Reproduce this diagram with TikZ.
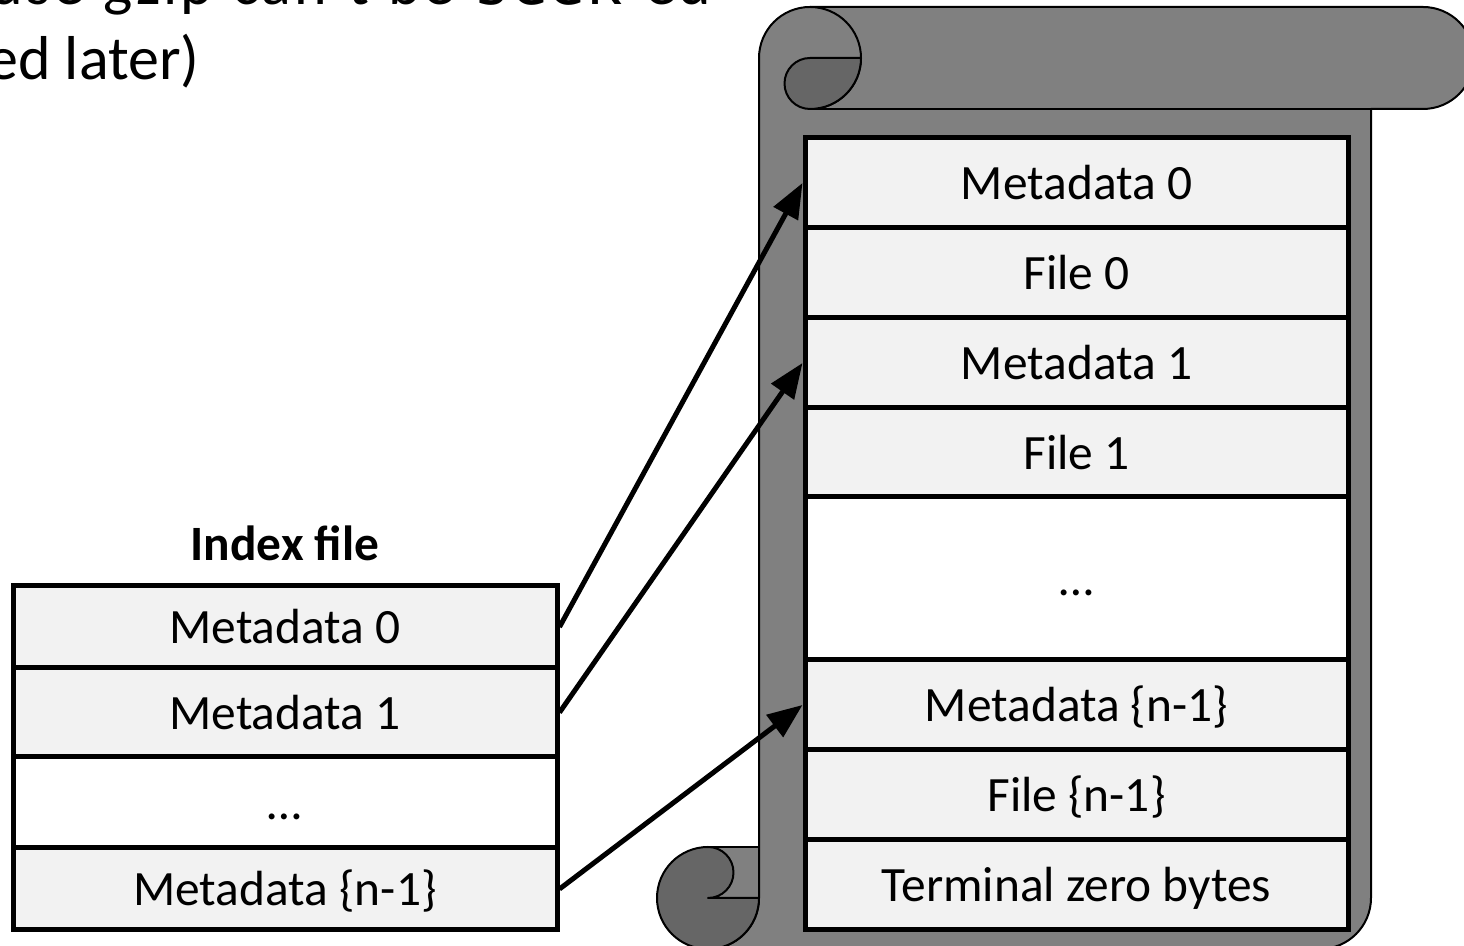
\documentclass[tikz,border=0pt]{standalone}
\usepackage{fontspec}
\setmainfont{Carlito}
\newfontfamily\codefont{DejaVu Sans Mono}
\usetikzlibrary{arrows.meta}
\definecolor{cellfill}{HTML}{F2F2F2}
\definecolor{scrollbody}{HTML}{808080}
\definecolor{scrollcurl}{HTML}{666666}

\begin{document}
\begin{tikzpicture}[x=0.5pt,y=0.5pt,
  cell/.style={draw, line width=2.5pt, fill=cellfill, minimum width=271.5pt,
    inner sep=0pt, text height=20pt, text depth=3pt,
    font=\fontsize{24.7}{30}\selectfont},
  icell/.style={cell, minimum width=272pt},
  arr/.style={line width=2.5pt, -{Triangle[length=17.5pt,width=13.5pt]}},
  scrollline/.style={line width=1pt, line join=round},
  heading/.style={anchor=base east, inner sep=0pt, font=\fontsize{31}{37}\selectfont}]
\useasboundingbox (0,0) rectangle (1464,946);
\clip (0,0) rectangle (1464,946);

% slide text running off the top-left corner
\node[heading] (head1) at (712,941)
  {\addfontfeatures{LetterSpace=5}\spaceskip=9.5pt use gzip can't be {\codefont seek}-ed};
\node[heading] (head2) at (200,866) {ed later)};

% scroll: tab of the lower curl
\fill[scrollbody] (708,48) rectangle (759,99);
% scroll: body and top roll
\draw[scrollline, fill=scrollbody] (759,48) -- (759,888)
  arc[start angle=180,end angle=90,radius=51] -- (1423,939)
  arc[start angle=90,end angle=-90,radius=51] -- (1371,837) -- (1371,48)
  arc[start angle=0,end angle=-90,radius=51] -- (708,-3)
  arc[start angle=-90,end angle=0,radius=51] -- cycle;
\draw[scrollline] (810,837) -- (1371,837);
\draw[scrollline] (810,939) arc[start angle=90,end angle=-90,radius=51];
\draw[scrollline] (708,99) -- (759,99);
% scroll: upper curl
\draw[scrollline, fill=scrollcurl] (810,888) -- (861,888)
  arc[start angle=0,end angle=-90,radius=51]
  arc[start angle=-90,end angle=-270,radius=25.5] -- cycle;
% scroll: lower curl
\draw[scrollline, fill=scrollcurl] (708,48) -- (759,48)
  arc[start angle=0,end angle=-270,radius=51]
  arc[start angle=90,end angle=-90,radius=25.5] -- cycle;

% archive contents
\node[cell, minimum height=45pt] (rm0) at (1076.5,763) {Metadata 0};
\node[cell, minimum height=45pt] (rf0) at (1076.5,673) {File 0};
\node[cell, minimum height=45pt] (rm1) at (1076.5,583) {Metadata 1};
\node[cell, minimum height=44.5pt] (rf1) at (1076.5,493.5) {File 1};
\node[cell, minimum height=81.5pt, fill=white] (rdots) at (1076.5,367.5) {…};
\node[cell, minimum height=45pt] (rmn) at (1076.5,241) {Metadata \{n-1\}};
\node[cell, minimum height=45pt] (rfn) at (1076.5,151) {File \{n-1\}};
\node[cell, minimum height=45pt] (rterm) at (1076.5,61) {Terminal zero bytes};

% index file
\node[font=\fontsize{24.7}{30}\selectfont\bfseries] (ititle) at (285,403) {Index file};
\node[icell, minimum height=41pt] (im0) at (285,319) {Metadata 0};
\node[icell, minimum height=44.5pt] (im1) at (285,233.5) {Metadata 1};
\node[icell, minimum height=45.5pt, fill=white] (idots) at (285,143.5) {…};
\node[icell, minimum height=41pt] (imn) at (285,57) {Metadata \{n-1\}};

% index entries point into the archive
\draw[arr] (im0.east) -- (rm0.west);
\draw[arr] (im1.east) -- (rm1.west);
\draw[arr] (imn.east) -- (rmn.west);
\end{tikzpicture}
\end{document}
